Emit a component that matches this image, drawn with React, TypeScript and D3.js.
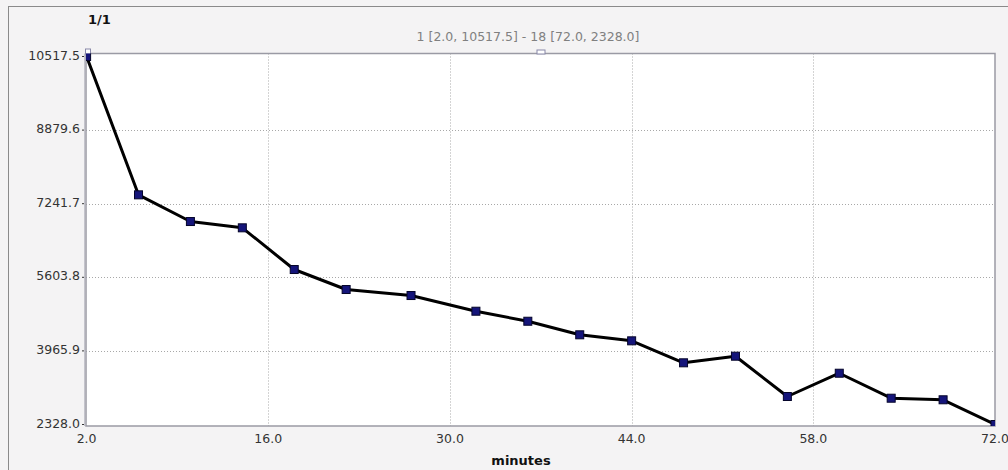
import React, { useEffect, useRef } from "react";
import * as d3 from "d3";

// minutes vs. value
const minutes = [2, 6, 10, 14, 18, 22, 27, 32, 36, 40, 44, 48, 52, 56, 60, 64, 68, 72];
const values = [
  10517.5, 7439, 6845, 6705, 5777, 5332, 5198, 4849, 4626, 4324, 4190, 3701,
  3848, 2951, 3469, 2913, 2878, 2328.0,
];
const xTicks = [2, 16, 30, 44, 58, 72];
const yTicks = [2328.0, 3965.9, 5603.8, 7241.7, 8879.6, 10517.5];
const title = "1/1";
const subtitle = "1 [2.0, 10517.5] - 18 [72.0, 2328.0]";
const xLabel = "minutes";

const W = 1008,
  H = 470;

export default function App() {
  const svgRef = useRef<SVGSVGElement>(null);

  useEffect(() => {
    const svg = d3.select(svgRef.current);
    svg.selectChildren().remove();

    const font = "'DejaVu Sans', Verdana, sans-serif";
    const plot = { left: 86, right: 995, top: 53.5, bottom: 426 };

    const x = d3.scaleLinear().domain([2, 72]).range([86.6, 995]);
    const y = d3.scaleLinear().domain([2328, 10517.5]).range([424.5, 56.5]);

    // panel background
    svg.append("rect").attr("width", W).attr("height", H).attr("fill", "#f4f3f4");
    svg
      .append("line")
      .attr("x1", 8).attr("x2", W).attr("y1", 6.5).attr("y2", 6.5)
      .attr("stroke", "#8a8a8a");
    svg
      .append("line")
      .attr("x1", 8.5).attr("x2", 8.5).attr("y1", 6).attr("y2", H)
      .attr("stroke", "#8a8a8a");

    svg
      .append("text")
      .attr("x", 88).attr("y", 24)
      .attr("font-family", font).attr("font-size", 13).attr("font-weight", "bold")
      .attr("fill", "#111")
      .text(title);

    svg
      .append("text")
      .attr("x", 528).attr("y", 41)
      .attr("text-anchor", "middle")
      .attr("font-family", font).attr("font-size", 12.5)
      .attr("fill", "#808080")
      .text(subtitle);

    // plot area
    svg
      .append("rect")
      .attr("x", plot.left).attr("y", plot.top)
      .attr("width", plot.right - plot.left).attr("height", plot.bottom - plot.top)
      .attr("fill", "#fff");

    const grid = svg.append("g").attr("stroke", "#a8a8a8").attr("stroke-dasharray", "1,2");
    grid
      .selectAll("line.v")
      .data(xTicks.slice(1, -1))
      .enter()
      .append("line")
      .attr("x1", (d) => Math.round(x(d)) + 0.5)
      .attr("x2", (d) => Math.round(x(d)) + 0.5)
      .attr("y1", plot.top)
      .attr("y2", plot.bottom);
    grid
      .selectAll("line.h")
      .data(yTicks.slice(1, -1))
      .enter()
      .append("line")
      .attr("x1", plot.left)
      .attr("x2", plot.right)
      .attr("y1", (d) => Math.round(y(d)) + 0.5)
      .attr("y2", (d) => Math.round(y(d)) + 0.5);

    // borders
    svg
      .append("path")
      .attr("d", `M${plot.left},${plot.bottom}V${plot.top}H${plot.right}V${plot.bottom}Z`)
      .attr("fill", "none")
      .attr("stroke", "#9a9aa4")
      .attr("stroke-width", 1.5);
    svg
      .append("line")
      .attr("x1", plot.left - 1.5).attr("x2", plot.left - 1.5)
      .attr("y1", plot.top).attr("y2", plot.bottom)
      .attr("stroke", "#c4c4cc");

    // tick marks
    svg
      .selectAll("line.yt")
      .data(yTicks)
      .enter()
      .append("line")
      .attr("x1", plot.left - 4).attr("x2", plot.left - 2)
      .attr("y1", (d) => y(d)).attr("y2", (d) => y(d))
      .attr("stroke", "#333");

    // y tick labels
    svg
      .selectAll("text.yl")
      .data(yTicks)
      .enter()
      .append("text")
      .attr("x", 80)
      .attr("y", (d) => y(d) + 3)
      .attr("text-anchor", "end")
      .attr("font-family", font).attr("font-size", 12.5)
      .attr("fill", "#333")
      .text((d) => d.toFixed(1));

    // x tick labels
    svg
      .selectAll("text.xl")
      .data(xTicks)
      .enter()
      .append("text")
      .attr("x", (d) => x(d))
      .attr("y", 443)
      .attr("text-anchor", "middle")
      .attr("font-family", font).attr("font-size", 12.5)
      .attr("fill", "#333")
      .text((d) => d.toFixed(1));

    svg
      .append("text")
      .attr("x", 521).attr("y", 465)
      .attr("text-anchor", "middle")
      .attr("font-family", font).attr("font-size", 13).attr("font-weight", "bold")
      .attr("fill", "#111")
      .text(xLabel);

    // handles
    [
      [plot.left + 2, plot.top - 2],
      [541, plot.top - 1],
    ].forEach(([hx, hy], i) => {
      svg
        .append("rect")
        .attr("x", hx - (i ? 4 : 2.5)).attr("y", hy - 2.5)
        .attr("width", i ? 8 : 5).attr("height", i ? 4 : 5)
        .attr("fill", "#fff")
        .attr("stroke", "#8888a8");
    });

    svg
      .append("clipPath")
      .attr("id", "plotclip")
      .append("rect")
      .attr("x", plot.left).attr("y", plot.top)
      .attr("width", plot.right - plot.left).attr("height", plot.bottom - plot.top);

    const pts = minutes.map((m, i) => [m, values[i]] as [number, number]);
    const g = svg.append("g").attr("clip-path", "url(#plotclip)");
    g.append("path")
      .attr("d", d3.line().x((d) => x(d[0])).y((d) => y(d[1]))(pts))
      .attr("fill", "none")
      .attr("stroke", "#000")
      .attr("stroke-width", 3)
      .attr("stroke-linejoin", "round");
    g.selectAll("rect.m")
      .data(pts)
      .enter()
      .append("rect")
      .attr("x", (d) => x(d[0]) - 4)
      .attr("y", (d) => y(d[1]) - 4)
      .attr("width", 8)
      .attr("height", 8)
      .attr("fill", "#15157a")
      .attr("stroke", "#05052a")
      .attr("stroke-width", 1);
  }, []);

  return (
    <div style={{ position: "absolute", left: 0, top: 0 }}>
      <svg ref={svgRef} width={W} height={H} style={{ display: "block" }} />
    </div>
  );
}
